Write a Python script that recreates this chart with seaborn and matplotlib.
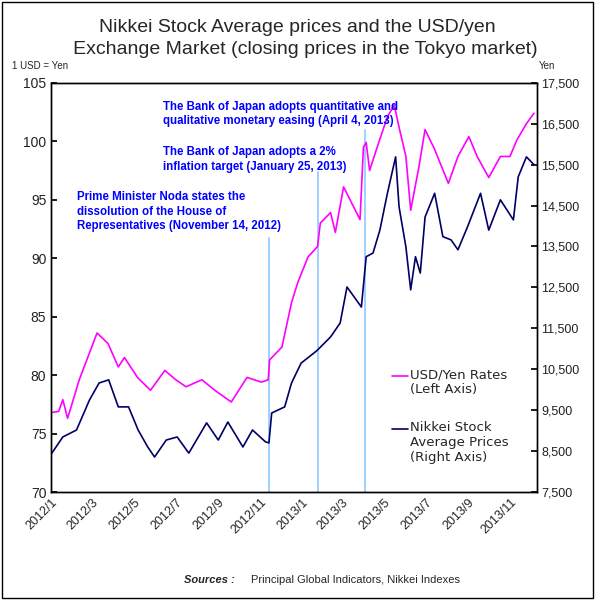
import matplotlib
matplotlib.use("Agg")
import matplotlib.pyplot as plt
import seaborn as sns
import pandas as pd

sns.set_theme(style="white")
plt.rcParams['font.family'] = ['Liberation Sans', 'DejaVu Sans']

usd_dates = ["2012-01-02","2012-01-12","2012-01-18","2012-01-25","2012-02-11","2012-03-08","2012-03-24",
             "2012-04-08","2012-04-17","2012-05-06","2012-05-25","2012-06-15","2012-07-01","2012-07-16",
             "2012-08-08","2012-08-27","2012-09-20","2012-10-13","2012-11-03","2012-11-13","2012-11-15",
             "2012-12-03","2012-12-17","2012-12-26","2013-01-10","2013-01-24","2013-01-28","2013-02-12",
             "2013-02-19","2013-03-03","2013-03-27","2013-04-01","2013-04-05","2013-04-10","2013-04-20",
             "2013-05-06","2013-05-16","2013-05-23","2013-06-02","2013-06-09","2013-06-21","2013-06-30",
             "2013-07-14","2013-08-03","2013-08-17","2013-09-02","2013-09-14","2013-10-01","2013-10-18",
             "2013-11-01","2013-11-11","2013-11-25","2013-12-06"]
usd_values = [76.8,76.9,77.9,76.3,79.6,83.6,82.7,80.7,81.5,79.8,78.7,80.4,79.6,79.0,79.6,78.7,77.7,79.8,
              79.4,79.6,81.3,82.4,86.2,87.9,90.1,91.0,93.0,93.9,92.2,96.1,93.3,99.5,99.9,97.5,99.3,
              102.1,103.1,101.2,98.7,94.1,97.8,101.0,99.3,96.4,98.7,100.4,98.7,96.9,98.7,98.7,100.1,101.5,102.4]

nk_dates = ["2012-01-02","2012-01-18","2012-02-07","2012-02-26","2012-03-11","2012-03-25","2012-04-08",
            "2012-04-23","2012-05-07","2012-05-21","2012-05-31","2012-06-17","2012-07-03","2012-07-20",
            "2012-08-15","2012-09-01","2012-09-15","2012-10-07","2012-10-21","2012-11-09","2012-11-14",
            "2012-11-18","2012-12-07","2012-12-17","2012-12-31","2013-01-19","2013-01-24","2013-02-12",
            "2013-02-26","2013-03-08","2013-03-29","2013-04-05","2013-04-15","2013-04-25","2013-05-06",
            "2013-05-18","2013-05-23","2013-06-02","2013-06-09","2013-06-16","2013-06-23","2013-06-30",
            "2013-07-14","2013-07-26","2013-08-07","2013-08-17","2013-08-31","2013-09-19","2013-10-01",
            "2013-10-18","2013-11-06","2013-11-13","2013-11-25","2013-12-06"]
nk_values = [8450,8845,9015,9750,10165,10240,9580,9580,9015,8600,8355,8770,8845,8450,9190,8770,9210,
             8600,9015,8725,8700,9430,9580,10165,10650,10900,10970,11290,11630,12510,12020,13250,13340,
             13900,14800,15690,14470,13490,12440,13250,12850,14220,14800,13740,13660,13420,13980,14800,
             13900,14640,14150,15200,15690,15500]

events = ["2012-11-14", "2013-01-25", "2013-04-04"]
event_tops = [91.7, 97.4, 101.0]
event_texts = ["Prime Minister Noda states the\ndissolution of the House of\nRepresentatives (November 14, 2012)",
               "The Bank of Japan adopts a 2%\ninflation target (January 25, 2013)",
               "The Bank of Japan adopts quantitative and\nqualitative monetary easing (April 4, 2013)"]
event_text_pos = [("2012-02-08", 92.2), ("2012-06-12", 97.3), ("2012-06-12", 101.2)]

xtick_labels = ["2012/1","2012/3","2012/5","2012/7","2012/9","2012/11","2013/1","2013/3","2013/5",
                "2013/7","2013/9","2013/11"]

usd = pd.DataFrame({"date": pd.to_datetime(usd_dates), "v": usd_values})
nk = pd.DataFrame({"date": pd.to_datetime(nk_dates), "v": nk_values})

fig = plt.figure(figsize=(5.95, 6.0), dpi=100)
ax = fig.add_axes([0.086, 0.18, 0.816, 0.682])
ax2 = ax.twinx()

sns.lineplot(data=usd, x="date", y="v", ax=ax, color="#FF00FF", lw=1.2)
sns.lineplot(data=nk, x="date", y="v", ax=ax2, color="#000066", lw=1.2)

for d, top in zip(events, event_tops):
    ax.plot([pd.Timestamp(d)] * 2, [70, top], color="#99CCFF", lw=1.3, zorder=1)
for t, (d, y) in zip(event_texts, event_text_pos):
    ax.text(pd.Timestamp(d), y, t, color="#0000FF", fontsize=8.3, fontweight="bold", va="bottom",
            linespacing=1.3)

ax.set_xlim(pd.Timestamp("2012-01-01"), pd.Timestamp("2013-12-10"))
ax.set_ylim(70, 105)
ax2.set_ylim(7500, 17500)
ax.set_yticks(range(70, 106, 5))
ax2.set_yticks(range(7500, 17501, 1000))
ax2.set_yticklabels([f"{v:,}" for v in range(7500, 17501, 1000)])
ticks = pd.date_range("2012-01-01", "2013-11-01", freq="2MS")
ax.set_xticks(ticks)
ax.set_xticklabels(xtick_labels, rotation=45, ha="right", rotation_mode="anchor")
for a in (ax, ax2):
    a.set_xlabel("")
    a.set_ylabel("")
    a.tick_params(direction="in", length=4, labelsize=10, color="black", labelcolor="#222222")
    for s in a.spines.values():
        s.set_color("black")
        s.set_linewidth(1)
ax.tick_params(axis="x", labelsize=9, pad=3)
ax.tick_params(axis="y", left=True)
ax2.tick_params(axis="y", right=True, labelsize=9)

# legend
lx0, lx1 = pd.Timestamp("2013-05-12"), pd.Timestamp("2013-06-05")
ax.plot([lx0, lx1], [79.9, 79.9], color="#FF00FF", lw=1.2)
ax.text(pd.Timestamp("2013-06-08"), 80.6, "USD/Yen Rates\n(Left Axis)", fontsize=9.5, va="top",
        linespacing=1.2, family=["DejaVu Sans"])
ax.plot([lx0, lx1], [75.4, 75.4], color="#000066", lw=1.2)
ax.text(pd.Timestamp("2013-06-08"), 76.1, "Nikkei Stock\nAverage Prices\n(Right Axis)", fontsize=9.5,
        va="top", linespacing=1.2, family=["DejaVu Sans"])

fig.text(0.5, 0.968, "Nikkei Stock Average prices and the USD/yen\n   Exchange Market (closing prices in the Tokyo market)",
         ha="center", va="top", fontsize=14, linespacing=1.35)
fig.text(0.02, 0.885, "1 USD = Yen", fontsize=7)
fig.text(0.905, 0.885, "Yen", fontsize=7)
fig.text(0.31, 0.028, "Sources :", fontsize=8, fontweight="bold", style="italic")
fig.text(0.422, 0.028, "Principal Global Indicators, Nikkei Indexes", fontsize=8)
fig.patches.append(plt.Rectangle((0.003, 0.003), 0.994, 0.994, transform=fig.transFigure,
                                 fill=False, ec="black", lw=1))
fig.savefig("out.png", dpi=100)
